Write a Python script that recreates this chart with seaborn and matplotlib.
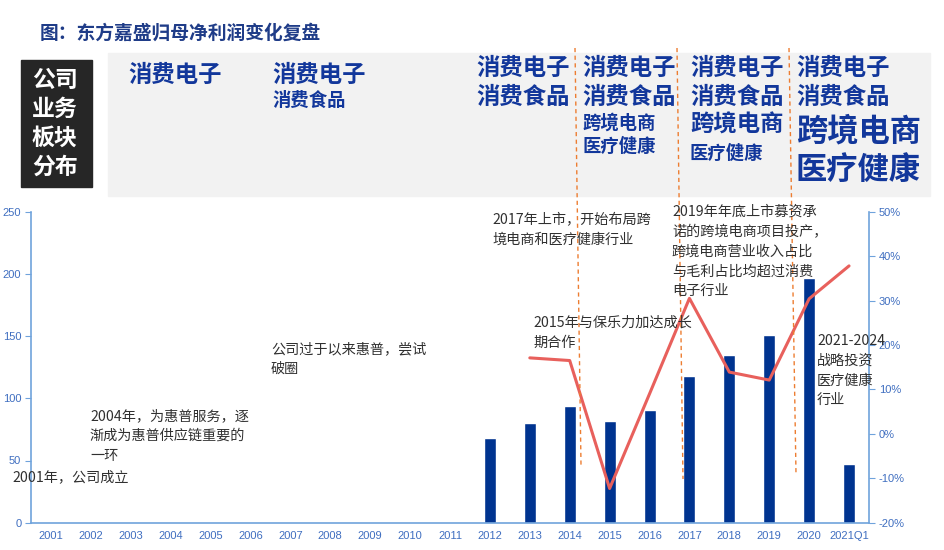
import numpy as np
import pandas as pd
import matplotlib
matplotlib.use("Agg")
import matplotlib.pyplot as plt
from matplotlib.lines import Line2D
from matplotlib.patches import Rectangle
import seaborn as sns

# categories on the x axis
years = ["2001", "2002", "2003", "2004", "2005", "2006", "2007", "2008", "2009", "2010",
         "2011", "2012", "2013", "2014", "2015", "2016", "2017", "2018", "2019", "2020", "2021Q1"]
# net profit attributable to parent (bars), only 2012 onwards
profit = [np.nan] * 11 + [68, 80, 93.5, 81.5, 90.5, 118, 135, 150.5, 197, 47]
# growth rate (line), 2013 onwards
growth_years = ["2013", "2014", "2015", "2016", "2017", "2018", "2019", "2020", "2021Q1"]
growth = [0.171, 0.165, -0.123, 0.09, 0.305, 0.139, 0.121, 0.304, 0.378]

left_ticks = [0, 50, 100, 150, 200, 250]
right_ticks = [-0.2, -0.1, 0.0, 0.1, 0.2, 0.3, 0.4, 0.5]

df = pd.DataFrame({"year": years, "profit": profit})
gdf = pd.DataFrame({"pos": [years.index(y) for y in growth_years], "growth": growth})

sns.set_style("white")
plt.rcParams["font.family"] = ["Noto Sans CJK SC", "DejaVu Sans"]
plt.rcParams["axes.unicode_minus"] = False

W, H = 945, 550
fig = plt.figure(figsize=(9.45, 5.5), dpi=100)
ax = fig.add_axes([31 / W, 1 - 522.7 / H, (869 - 31) / W, (522.7 - 211.7) / H])

axis_col = "#6FA3DC"
tick_col = "#3F6EC0"
bar_col = "#00338F"
line_col = "#E8605C"
hdr_col = "#12379B"
txt_col = "#303030"

sns.barplot(data=df, x="year", y="profit", order=years, color=bar_col, width=0.3,
            saturation=1, ax=ax)
ax.set_xlim(-0.5, len(years) - 0.5)
ax.set_ylim(0, 250)
ax.set_yticks(left_ticks)
ax.set_xlabel("")
ax.set_ylabel("")

ax2 = ax.twinx()
sns.lineplot(data=gdf, x="pos", y="growth", color=line_col, linewidth=2.2, ax=ax2)
ax2.set_ylim(-0.2, 0.5)
ax2.set_yticks(right_ticks)
ax2.set_yticklabels([f"{int(round(v * 100))}%" for v in right_ticks])
ax2.set_ylabel("")
ax2.set_xlabel("")
ax2.set_xlim(-0.5, len(years) - 0.5)

for a in (ax, ax2):
    for s in a.spines.values():
        s.set_visible(False)
    a.grid(False)
ax.spines["left"].set_visible(True)
ax.spines["bottom"].set_visible(True)
ax2.spines["right"].set_visible(True)
for s in (ax.spines["left"], ax.spines["bottom"], ax2.spines["right"]):
    s.set_color(axis_col)
    s.set_linewidth(1.2)

# x tick marks between categories, labels centred
ax.set_xticks(range(len(years)))
ax.set_xticklabels(years)
ax.set_xticks(np.arange(-0.5, len(years), 1), minor=True)
ax.tick_params(axis="x", which="major", length=0, pad=6, labelsize=8, labelcolor=tick_col)
ax.tick_params(axis="x", which="minor", length=4, color=axis_col, direction="out")
ax.tick_params(axis="y", left=True, length=4, color=axis_col, labelsize=8, labelcolor=tick_col, pad=3)
ax2.tick_params(axis="y", right=True, length=4, color=axis_col, labelsize=8, labelcolor=tick_col, pad=3)
for lab in ax.get_xticklabels() + ax.get_yticklabels() + ax2.get_yticklabels():
    lab.set_family(["Liberation Sans", "DejaVu Sans"])


def put(x, y, s, size, color=txt_col, weight="normal", **kw):
    fig.text(x / W, 1 - y / H, s, fontsize=size, color=color, weight=weight,
             va="center", ha="left", **kw)


# title
put(40, 33, "图：东方嘉盛归母净利润变化复盘", 13.5, color="#1F3C88", weight="bold")

# header boxes
fig.add_artist(Rectangle((108 / W, 1 - 196 / H), (930 - 108) / W, (196 - 53) / H,
                         transform=fig.transFigure, color="#F2F2F2", zorder=0))
fig.add_artist(Rectangle((21 / W, 1 - 187 / H), (92 - 21) / W, (187 - 60) / H,
                         transform=fig.transFigure, color="#262626", zorder=0))
for i, s in enumerate(["公司", "业务", "板块", "分布"]):
    put(32, 80 + i * 29, s, 16.5, color="white", weight="bold")

big, small, huge = 16.8, 13.2, 22.5
header = [
    (128, [("消费电子", 75, big)]),
    (272, [("消费电子", 75, big), ("消费食品", 100, small)]),
    (476, [("消费电子", 68, big), ("消费食品", 97, big)]),
    (582, [("消费电子", 68, big), ("消费食品", 97, big), ("跨境电商", 123, small), ("医疗健康", 146, small)]),
    (690, [("消费电子", 68, big), ("消费食品", 97, big), ("跨境电商", 125, big), ("医疗健康", 153, small)]),
    (796, [("消费电子", 68, big), ("消费食品", 97, big), ("跨境电商", 131, huge), ("医疗健康", 170, huge)]),
]
for x, rows in header:
    for s, y, size in rows:
        put(x, y, s, size, color=hdr_col, weight="bold")

# dashed separators
for (x0, y0, x1, y1) in [(575, 48, 581, 465), (677, 48, 683, 479), (789, 48, 796, 474)]:
    fig.add_artist(Line2D([x0 / W, x1 / W], [1 - y0 / H, 1 - y1 / H], transform=fig.transFigure,
                          color="#ED7D31", linestyle=(0, (3, 2.5)), linewidth=1.0, zorder=5))

# milestone notes
notes = [
    (12, 477, ["2001年，公司成立"]),
    (90, 416, ["2004年，为惠普服务，逐", "渐成为惠普供应链重要的", "一环"]),
    (271, 349, ["公司过于以来惠普，尝试", "破圈"]),
    (492, 220, ["2017年上市，开始布局跨", "境电商和医疗健康行业"]),
    (533, 323, ["2015年与保乐力加达成长", "期合作"]),
    (672, 212, ["2019年年底上市募资承", "诺的跨境电商项目投产，", "跨境电商营业收入占比", "与毛利占比均超过消费", "电子行业"]),
    (817, 341, ["2021-2024", "战略投资", "医疗健康", "行业"]),
]
for x, y, lines in notes:
    for k, s in enumerate(lines):
        put(x, y + k * 19.8, s, 10.2, zorder=6)

fig.savefig("out.png", dpi=100)
